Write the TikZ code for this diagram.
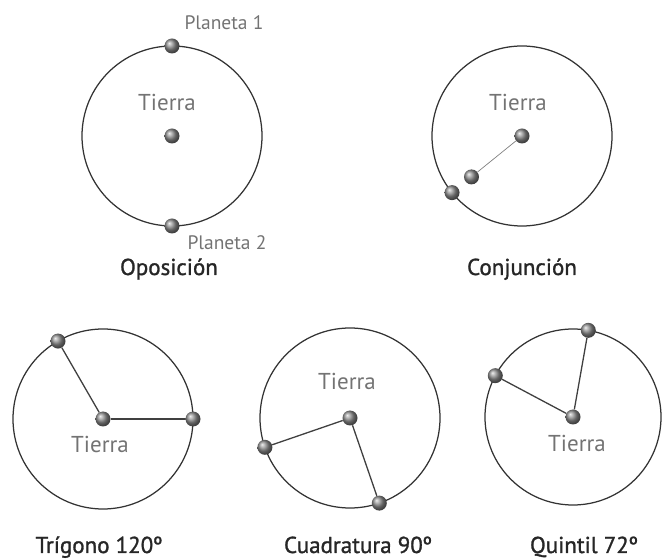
\documentclass[tikz,border=0pt]{standalone}
\usepackage{fontspec}
\setmainfont{PT Sans}
\newfontfamily\capfont[FakeBold=1.2]{PT Sans}
\usetikzlibrary{positioning}
\tikzset{
  orbit/.style={draw=black!80, line width=1.25pt},
  planet/.style={circle, inner sep=0pt, minimum size=15pt, ball color=black!45},
  link/.style={draw=black!75, line width=1.3pt},
  thinlink/.style={draw=black!50, line width=0.7pt},
  lbl/.style={font=\fontsize{23}{27}\selectfont, text=black!55, anchor=base},
  small/.style={font=\fontsize{19.5}{23}\selectfont, text=black!55, anchor=base},
  caption/.style={font=\capfont\fontsize{23}{27}\selectfont, text=black!85, anchor=base},
}

\begin{document}
\begin{tikzpicture}[x=1pt,y=1pt]
  \useasboundingbox (0,0) rectangle (662,560);
  % Oposicion
  \coordinate (cA) at (172,424);
  \draw[orbit] (cA) circle (90pt);
  \node[planet] (eA) at (cA) {};
  \node[planet] (pA1) at ([shift={(90:90pt)}]cA) {};
  \node[planet] (pA2) at ([shift={(-90:90pt)}]cA) {};
  \node[lbl] (tA) at (167,449) {Tierra};
  \node[small] (nA1) at (224,530) {Planeta 1};
  \node[small] (nA2) at (227,310) {Planeta 2};
  \node[caption] (capA) at (169,285) {Oposición};
  % Conjuncion
  \coordinate (cB) at (522,424);
  \draw[orbit] (cB) circle (90pt);
  \node[planet] (eB) at (cB) {};
  \node[planet] (pB1) at ([shift={(219:65pt)}]cB) {};
  \node[planet] (pB2) at ([shift={(219:90pt)}]cB) {};
  \draw[thinlink] (eB) -- (pB1);
  \node[lbl] (tB) at (518,449) {Tierra};
  \node[caption] (capB) at (522,285) {Conjunción};
  % Trigono
  \coordinate (cC) at (103,141);
  \draw[orbit] (cC) circle (90pt);
  \node[planet] (eC) at (cC) {};
  \node[planet] (pC1) at ([shift={(0:90pt)}]cC) {};
  \node[planet] (pC2) at ([shift={(120:90pt)}]cC) {};
  \draw[link] (eC) -- (pC1);
  \draw[link] (eC) -- (pC2);
  \node[lbl] (tC) at (100,107) {Tierra};
  \node[caption] (capC) at (99,7) {Trígono 120º};
  % Cuadratura
  \coordinate (cD) at (350,142);
  \draw[orbit] (cD) circle (90pt);
  \node[planet] (eD) at (cD) {};
  \node[planet] (pD1) at ([shift={(199:90pt)}]cD) {};
  \node[planet] (pD2) at ([shift={(289:90pt)}]cD) {};
  \draw[link] (eD) -- (pD1);
  \draw[link] (eD) -- (pD2);
  \node[lbl] (tD) at (347,170) {Tierra};
  \node[caption] (capD) at (358,7) {Cuadratura 90º};
  % Quintil
  \coordinate (cE) at (573,143);
  \draw[orbit] (cE) circle (88pt);
  \node[planet] (eE) at (cE) {};
  \node[planet] (pE1) at ([shift={(80:88pt)}]cE) {};
  \node[planet] (pE2) at ([shift={(152:88pt)}]cE) {};
  \draw[link] (eE) -- (pE1);
  \draw[link] (eE) -- (pE2);
  \node[lbl] (tE) at (577,108) {Tierra};
  \node[caption] (capE) at (584,7) {Quintil 72º};
\end{tikzpicture}
\end{document}
